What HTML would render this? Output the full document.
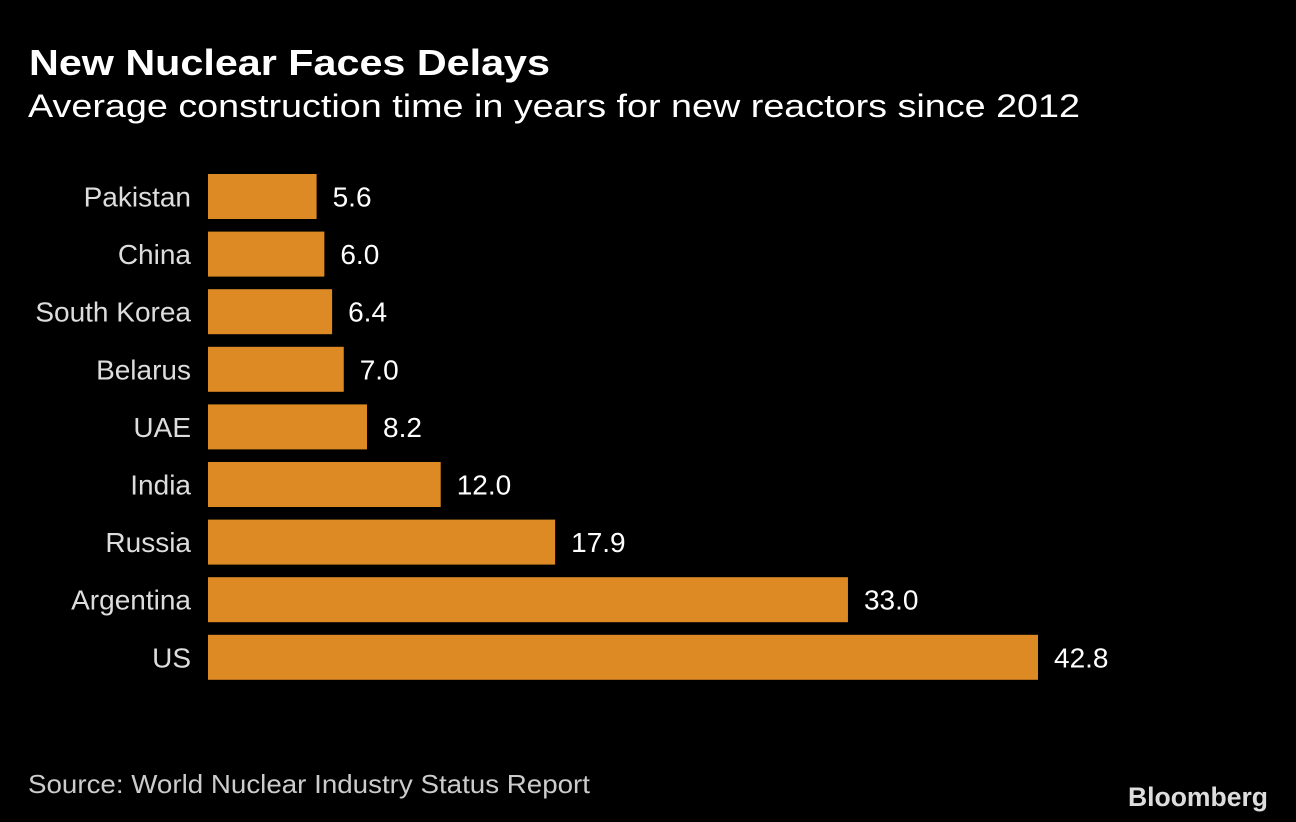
<!DOCTYPE html>
<html><head><meta charset="utf-8"><style>
html,body{margin:0;padding:0;background:#000;}
svg{display:block;}
</style></head><body>
<svg id="chart" width="1296" height="822" xmlns="http://www.w3.org/2000/svg">
<rect width="1296" height="822" fill="#000"/>
<text x="29" y="75" fill="#fff" font-family="Liberation Sans, sans-serif" font-weight="bold" font-size="36" textLength="521" lengthAdjust="spacingAndGlyphs">New Nuclear Faces Delays</text>
<text x="28" y="117" fill="#fff" font-family="Liberation Sans, sans-serif" font-size="32" textLength="1052" lengthAdjust="spacingAndGlyphs">Average construction time in years for new reactors since 2012</text>
<g id="bars"></g>
<text x="28" y="793" fill="#ccc" font-family="Liberation Sans, sans-serif" font-size="26" textLength="562" lengthAdjust="spacingAndGlyphs">Source: World Nuclear Industry Status Report</text>
<text x="1268" y="806" text-anchor="end" fill="#ddd" font-family="Liberation Sans, sans-serif" font-weight="bold" font-size="27" textLength="140" lengthAdjust="spacingAndGlyphs">Bloomberg</text>
</svg>
<script>
const categories = ["Pakistan","China","South Korea","Belarus","UAE","India","Russia","Argentina","US"];
const values = [5.6,6.0,6.4,7.0,8.2,12.0,17.9,33.0,42.8];
const valueLabels = ["5.6","6.0","6.4","7.0","8.2","12.0","17.9","33.0","42.8"];

const NS = "http://www.w3.org/2000/svg";
const x0 = 208, pxPerUnit = 830/42.8;
const xScale = v => x0 + v*pxPerUnit;
const top0 = 174, step = 57.6, barH = 45;
const yScale = i => top0 + i*step;
const g = document.getElementById('bars');
categories.forEach((c,i)=>{
  const y = yScale(i);
  const r = document.createElementNS(NS,'rect');
  r.setAttribute('x',x0); r.setAttribute('y',y);
  r.setAttribute('width',xScale(values[i])-x0); r.setAttribute('height',barH);
  r.setAttribute('fill','#dd8a24');
  
  
  g.appendChild(r);
  const l = document.createElementNS(NS,'text');
  l.setAttribute('x',191); l.setAttribute('y',y+barH/2+10);
  l.setAttribute('text-anchor','end'); l.setAttribute('fill','#ddd');
  l.setAttribute('font-family','Liberation Sans, sans-serif'); l.setAttribute('font-size','28');
  l.textContent = c;
  
  
  g.appendChild(l);
  const v = document.createElementNS(NS,'text');
  v.setAttribute('x',xScale(values[i])+16); v.setAttribute('y',y+barH/2+10);
  v.setAttribute('fill','#fff');
  v.setAttribute('font-family','Liberation Sans, sans-serif'); v.setAttribute('font-size','28');
  v.textContent = valueLabels[i];
  
  
  g.appendChild(v);
});
</script>
</body></html>
